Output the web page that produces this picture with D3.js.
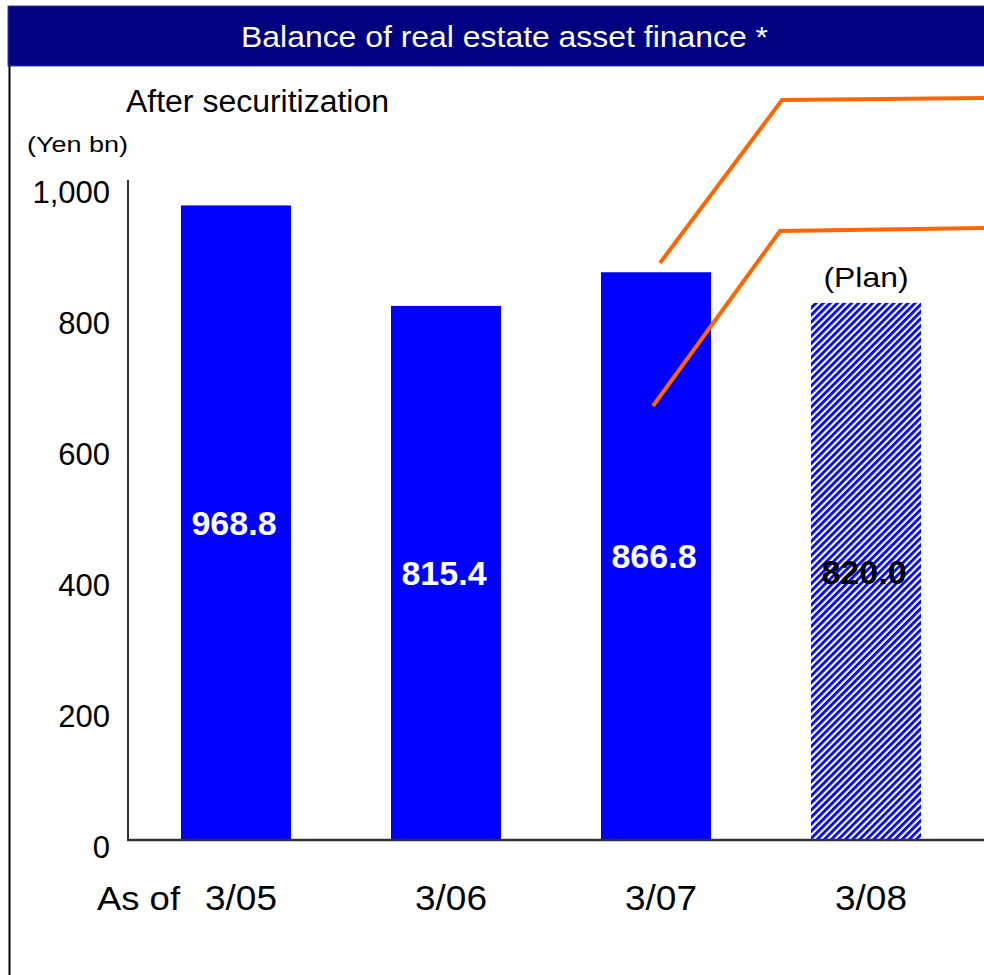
<!DOCTYPE html>
<html>
<head>
<meta charset="utf-8">
<script src="https://cdn.jsdelivr.net/npm/d3@7"></script>
<style>
  html, body { margin: 0; padding: 0; background: #fff; }
  svg { display: block; font-family: "Liberation Sans", Arial, sans-serif; }
</style>
</head>
<body>
<svg id="chart" width="984" height="975"></svg>
<script>
// Balance of real estate asset finance (after securitization), Yen bn
const categories = ["3/05", "3/06", "3/07", "3/08"];
const values = [968.8, 815.4, 866.8, 820.0];
const isPlan = [false, false, false, true];
const yTicks = [0, 200, 400, 600, 800, 1000];

const svg = d3.select("#chart");
const W = 984, H = 975;

// hatched fill for the planned figure
const defs = svg.append("defs");
const pat = defs.append("pattern")
  .attr("id", "hatch")
  .attr("patternUnits", "userSpaceOnUse")
  .attr("width", 5).attr("height", 5)
  .attr("patternTransform", "rotate(45)");
pat.append("rect").attr("width", 5).attr("height", 5).attr("fill", "#fff");
pat.append("rect").attr("x", 0).attr("width", 2.8).attr("height", 5).attr("fill", "#0000ff");

// header band
svg.append("rect")
  .attr("x", 8).attr("y", 6).attr("width", W + 10).attr("height", 60)
  .attr("fill", "#000080").attr("stroke", "#3a3aa8").attr("stroke-width", 1);
svg.append("text")
  .attr("x", 241).attr("y", 47)
  .attr("fill", "#fff")
  .attr("font-size", 30)
  .attr("textLength", 527)
  .attr("lengthAdjust", "spacingAndGlyphs")
  .text("Balance of real estate asset finance *");

// left frame line
svg.append("line")
  .attr("x1", 9.5).attr("x2", 9.5).attr("y1", 66).attr("y2", H)
  .attr("stroke", "#000").attr("stroke-width", 2);

// scales
const y = d3.scaleLinear().domain([0, 1000]).range([840, 185]);
const x = d3.scaleBand().domain(categories).range([131, 971])
  .paddingInner(0.476).paddingOuter(0.238);

// subtitles
svg.append("text").attr("x", 126).attr("y", 112)
  .attr("font-size", 31).attr("fill", "#000")
  .attr("textLength", 263).attr("lengthAdjust", "spacingAndGlyphs")
  .text("After securitization");
svg.append("text").attr("x", 27).attr("y", 152)
  .attr("font-size", 22).attr("fill", "#000")
  .attr("textLength", 101).attr("lengthAdjust", "spacingAndGlyphs")
  .text("(Yen bn)");

// bars
const bars = svg.append("g");
bars.selectAll("rect")
  .data(values)
  .join("rect")
  .attr("x", (d, i) => x(categories[i]))
  .attr("y", d => y(d))
  .attr("width", x.bandwidth())
  .attr("height", d => y(0) - y(d))
  .attr("fill", (d, i) => isPlan[i] ? "url(#hatch)" : "#0000ff");

// value labels
svg.append("g").selectAll("text")
  .data(values)
  .join("text")
  .attr("x", (d, i) => x(categories[i]) + x.bandwidth() / 2 - 2)
  .attr("y", d => (y(d) + y(0)) / 2)
  .attr("dy", "0.36em")
  .attr("text-anchor", "middle")
  .attr("font-size", 34)
  .attr("font-weight", "bold")
  .attr("fill", (d, i) => isPlan[i] ? "#000" : "#fff")
  .text(d => d3.format(".1f")(d));

// plan marker above the planned bar
const planIdx = isPlan.indexOf(true);
svg.append("text")
  .attr("x", x(categories[planIdx]) + x.bandwidth() / 2)
  .attr("y", y(values[planIdx]) - 16)
  .attr("text-anchor", "middle")
  .attr("font-size", 28)
  .attr("textLength", 85).attr("lengthAdjust", "spacingAndGlyphs")
  .text("(Plan)");

// y axis
const yAxis = svg.append("g")
  .attr("transform", "translate(128,0)")
  .call(d3.axisLeft(y).tickValues(yTicks).tickSize(0).tickPadding(18)
    .tickFormat(d3.format(",")));
yAxis.select(".domain").remove();
yAxis.selectAll("text")
  .attr("font-size", 31)
  .attr("font-family", "Liberation Sans, Arial, sans-serif")
  .attr("fill", "#000")
  .attr("dy", "0.55em");

// axis lines
svg.append("line")
  .attr("x1", 128).attr("x2", 128).attr("y1", 180).attr("y2", y(0))
  .attr("stroke", "#333").attr("stroke-width", 2);
svg.append("line")
  .attr("x1", 127).attr("x2", W).attr("y1", y(0)).attr("y2", y(0))
  .attr("stroke", "#333").attr("stroke-width", 2.5);

// x axis labels
const xAxis = svg.append("g")
  .attr("transform", `translate(0,${y(0)})`)
  .call(d3.axisBottom(x).tickSize(0).tickPadding(45));
xAxis.select(".domain").remove();
xAxis.selectAll(".tick text")
  .attr("font-size", 35)
  .attr("font-family", "Liberation Sans, Arial, sans-serif")
  .attr("fill", "#000")
  .attr("x", 5)
  .attr("textLength", 72)
  .attr("lengthAdjust", "spacingAndGlyphs");

svg.append("text").attr("x", 97).attr("y", 910)
  .attr("font-size", 33).attr("fill", "#000")
  .attr("textLength", 83).attr("lengthAdjust", "spacingAndGlyphs")
  .text("As of");

// orange callout leaders
const leaders = [
  [[660, 263], [782, 100], [W, 98]],
  [[653, 406], [780, 231], [W, 228]]
];
svg.append("g").selectAll("path")
  .data(leaders)
  .join("path")
  .attr("d", d3.line())
  .attr("fill", "none")
  .attr("stroke", "#ff6600")
  .attr("stroke-width", 4);
</script>
</body>
</html>
